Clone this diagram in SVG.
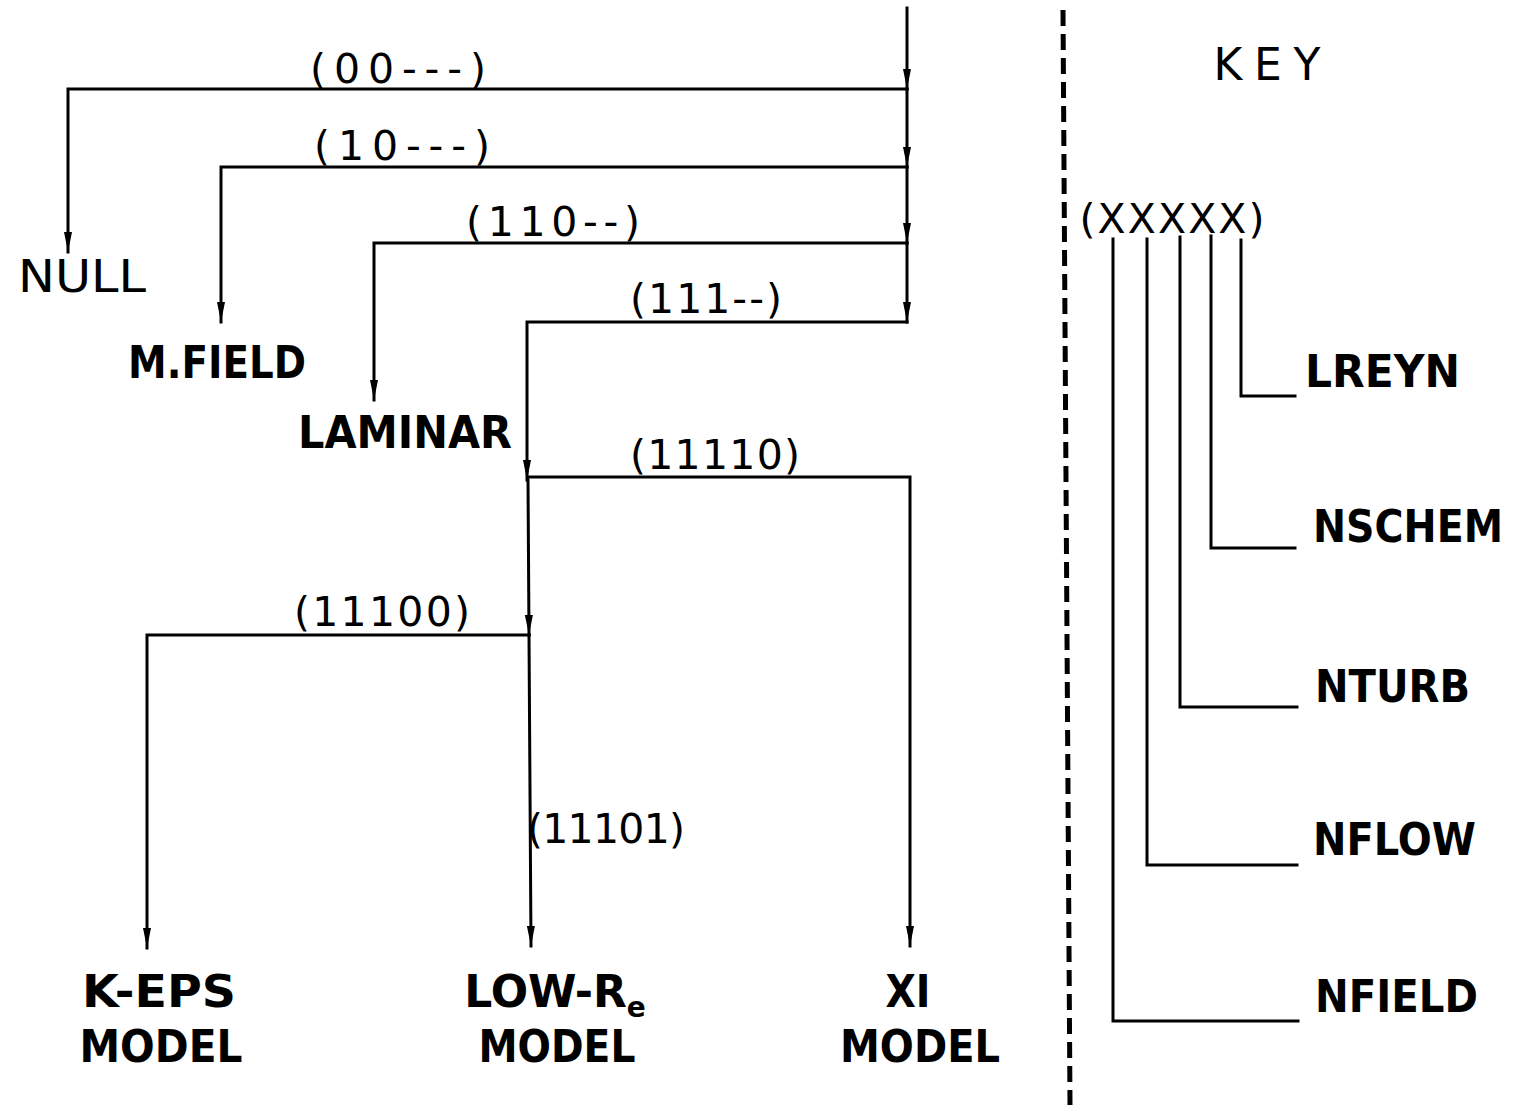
<svg xmlns="http://www.w3.org/2000/svg" width="1522" height="1110" viewBox="0 0 1522 1110">
<style>
.ln{stroke:#000;stroke-width:3;fill:none;stroke-linecap:square}
.code{font-family:"DejaVu Sans",sans-serif;font-size:41px;fill:#000;text-anchor:middle}
.lbl{font-family:"DejaVu Sans",sans-serif;font-size:44px;font-weight:bold;fill:#000;text-anchor:middle}
.thin{font-family:"DejaVu Sans",sans-serif;font-size:44px;fill:#000;text-anchor:middle}
.key{font-family:"DejaVu Sans",sans-serif;font-size:44px;font-weight:bold;fill:#000}
</style>
<defs>
<marker id="ah" viewBox="0 0 20 10" refX="20" refY="5" markerWidth="20" markerHeight="10" markerUnits="userSpaceOnUse" orient="auto">
<path d="M0,1 L20,5 L0,9 z" fill="#000"/>
</marker>
</defs>
<rect width="1522" height="1110" fill="#fff"/>
<g id="connectors">
<line class="ln" x1="907" y1="8" x2="907" y2="89" marker-end="url(#ah)"/>
<line class="ln" x1="907" y1="89" x2="907" y2="167" marker-end="url(#ah)"/>
<line class="ln" x1="907" y1="167" x2="907" y2="243" marker-end="url(#ah)"/>
<line class="ln" x1="907" y1="243" x2="907" y2="322" marker-end="url(#ah)"/>
<polyline class="ln" points="907,89 68,89 68,252" marker-end="url(#ah)"/>
<polyline class="ln" points="907,167 221,167 221,322" marker-end="url(#ah)"/>
<polyline class="ln" points="907,243 374,243 374,400" marker-end="url(#ah)"/>
<polyline class="ln" points="907,322 527,322 527,480" marker-end="url(#ah)"/>
<line class="ln" x1="528" y1="480" x2="529" y2="635" marker-end="url(#ah)"/>
<line class="ln" x1="529" y1="635" x2="531" y2="946" marker-end="url(#ah)"/>
<polyline class="ln" points="528,477 910,477 910,946" marker-end="url(#ah)"/>
<polyline class="ln" points="529,635 147,635 147,948" marker-end="url(#ah)"/>
</g>
<g id="codes">
<text class="code" x="398" y="83" textLength="176" lengthAdjust="spacing">(00---)</text>
<text class="code" x="402" y="160" textLength="176" lengthAdjust="spacing">(10---)</text>
<text class="code" x="553" y="236" textLength="174" lengthAdjust="spacing">(110--)</text>
<text class="code" x="706" y="313" textLength="152" lengthAdjust="spacing">(111--)</text>
<text class="code" x="715" y="469" textLength="170" lengthAdjust="spacing">(11110)</text>
<text class="code" x="382" y="626" textLength="176" lengthAdjust="spacing">(11100)</text>
<text class="code" x="606" y="843" textLength="158" lengthAdjust="spacing">(11101)</text>
</g>
<g id="node-null"><text class="thin" x="82" y="292" textLength="128" lengthAdjust="spacingAndGlyphs">NULL</text></g>
<g id="node-mfield"><text class="lbl" x="217" y="378" textLength="178" lengthAdjust="spacingAndGlyphs">M.FIELD</text></g>
<g id="node-laminar"><text class="lbl" x="405" y="448" textLength="214" lengthAdjust="spacingAndGlyphs">LAMINAR</text></g>
<g id="node-keps">
<text class="lbl" x="159" y="1007" textLength="154" lengthAdjust="spacingAndGlyphs">K-EPS</text>
<text class="lbl" x="161" y="1062" textLength="163" lengthAdjust="spacingAndGlyphs">MODEL</text>
</g>
<g id="node-lowre">
<text class="lbl" x="555" y="1007">LOW-R<tspan font-size="28" dy="10">e</tspan></text>
<text class="lbl" x="557" y="1062" textLength="157" lengthAdjust="spacingAndGlyphs">MODEL</text>
</g>
<g id="node-xi">
<text class="lbl" x="908" y="1007" textLength="45" lengthAdjust="spacingAndGlyphs">XI</text>
<text class="lbl" x="920" y="1062" textLength="160" lengthAdjust="spacingAndGlyphs">MODEL</text>
</g>
<g id="divider">
<line x1="1063" y1="10" x2="1070" y2="1105" stroke="#000" stroke-width="5" stroke-dasharray="16 8"/>
</g>
<g id="key">
<text class="thin" x="1267" y="80" textLength="107" lengthAdjust="spacing">KEY</text>
<text class="code" x="1172" y="233" textLength="185" lengthAdjust="spacing">(XXXXX)</text>
<polyline class="ln" points="1241,240 1241,396 1295,396"/>
<polyline class="ln" points="1211,236 1211,548 1295,548"/>
<polyline class="ln" points="1180,237 1180,707 1297,707"/>
<polyline class="ln" points="1147,239 1147,865 1297,865"/>
<polyline class="ln" points="1113,239 1113,1021 1298,1021"/>
<text class="key" x="1305" y="387" textLength="155" lengthAdjust="spacingAndGlyphs">LREYN</text>
<text class="key" x="1313" y="542" textLength="190" lengthAdjust="spacingAndGlyphs">NSCHEM</text>
<text class="key" x="1315" y="702" textLength="155" lengthAdjust="spacingAndGlyphs">NTURB</text>
<text class="key" x="1313" y="855" textLength="163" lengthAdjust="spacingAndGlyphs">NFLOW</text>
<text class="key" x="1315" y="1012" textLength="163" lengthAdjust="spacingAndGlyphs">NFIELD</text>
</g>
</svg>
